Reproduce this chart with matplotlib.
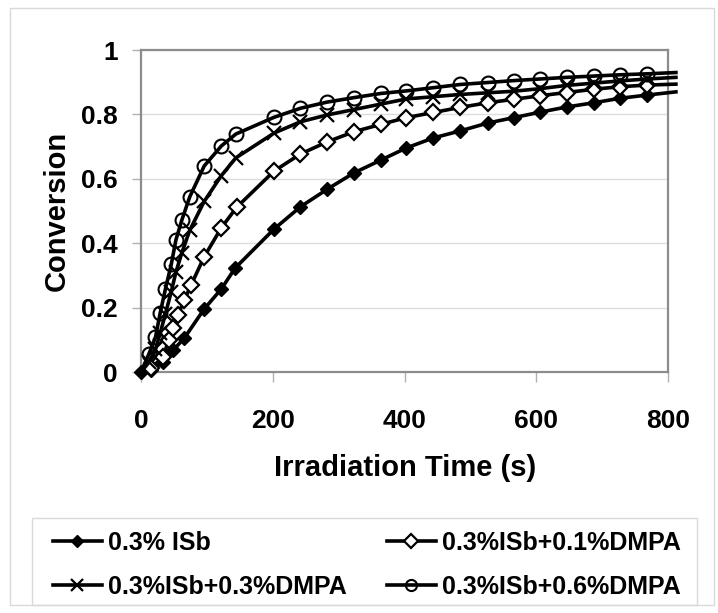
import matplotlib
matplotlib.use('Agg')
import matplotlib.pyplot as plt
from matplotlib.patches import Rectangle

plt.rcParams['font.family'] = ['Liberation Sans', 'DejaVu Sans']
plt.rcParams['font.weight'] = 'bold'

# values (time in s, conversion fraction)
t_isb = [0, 15, 33, 49, 66, 96, 122, 143, 202, 242, 283, 323, 364, 403, 444,
         485, 526, 566, 606, 646, 687, 727, 768, 812]
c_isb = [0, 0.005, 0.03, 0.068, 0.106, 0.196, 0.258, 0.323, 0.444, 0.513,
         0.568, 0.618, 0.658, 0.696, 0.727, 0.749, 0.773, 0.79, 0.807, 0.823,
         0.836, 0.85, 0.86, 0.87]

t_d01 = [0, 15, 34, 42, 49, 56, 66, 76, 96, 122, 145, 202, 242, 283, 323, 364,
         403, 444, 485, 526, 566, 606, 646, 687, 727, 768, 812]
c_d01 = [0, 0.011, 0.048, 0.10, 0.136, 0.177, 0.224, 0.27, 0.358, 0.448, 0.511,
         0.624, 0.677, 0.715, 0.746, 0.769, 0.79, 0.806, 0.822, 0.836, 0.847,
         0.858, 0.868, 0.878, 0.886, 0.891, 0.894]

t_d03 = [0, 12, 22, 29, 37, 46, 53, 62, 74, 96, 122, 144, 202, 242, 282, 323,
         364, 403, 444, 485, 526, 566, 606, 646, 687, 727, 768, 812]
c_d03 = [0, 0.03, 0.07, 0.12, 0.18, 0.25, 0.31, 0.37, 0.44, 0.53, 0.61, 0.665,
         0.742, 0.777, 0.798, 0.815, 0.832, 0.848, 0.855, 0.862, 0.867, 0.872,
         0.88, 0.89, 0.897, 0.904, 0.91, 0.915]

t_d06 = t_d03
c_d06 = [0, 0.056, 0.108, 0.182, 0.257, 0.335, 0.41, 0.472, 0.544, 0.64, 0.702,
         0.739, 0.791, 0.819, 0.838, 0.852, 0.865, 0.873, 0.883, 0.893, 0.899,
         0.905, 0.91, 0.915, 0.919, 0.923, 0.926, 0.93]

labels = ['0.3% ISb', '0.3%ISb+0.1%DMPA', '0.3%ISb+0.3%DMPA', '0.3%ISb+0.6%DMPA']
x_ticks = [0, 200, 400, 600, 800]
y_ticks = [0, 0.2, 0.4, 0.6, 0.8, 1.0]
y_ticklabels = ['0', '0.2', '0.4', '0.6', '0.8', '1']

W, H = 718, 613
fig = plt.figure(figsize=(W / 100, H / 100), dpi=100)
ax = fig.add_axes([141 / W, 1 - 372 / H, 527 / W, 322 / H])

lw = 2.6
h0, = ax.plot(t_isb, c_isb, color='black', lw=lw, marker='D', ms=7.5,
              mfc='black', mec='black', markevery=list(range(len(t_isb) - 1)),
              clip_on=False, zorder=3)
h1, = ax.plot(t_d01, c_d01, color='black', lw=lw, marker='D', ms=8.5,
              mfc='white', mec='black', mew=1.6,
              markevery=list(range(1, len(t_d01) - 1)), clip_on=False, zorder=3)
h2, = ax.plot(t_d03, c_d03, color='black', lw=lw, marker='x', ms=10, mew=1.6,
              mec='black', markevery=list(range(1, len(t_d03) - 1)),
              clip_on=False, zorder=3)
h3, = ax.plot(t_d06, c_d06, color='black', lw=lw, marker='o', ms=10, mew=1.5,
              mfc='none', mec='black', markevery=list(range(1, len(t_d06) - 1)),
              clip_on=False, zorder=3)

ax.set_xlim(0, 800)
ax.set_ylim(0, 1)
ax.set_xticks(x_ticks)
ax.set_yticks(y_ticks)
ax.set_yticklabels(y_ticklabels)
ax.tick_params(labelsize=19, colors='#b0b0b0', width=1)
ax.tick_params(axis='x', length=7, pad=20)
ax.tick_params(axis='y', length=6.5, pad=10)
for lab in ax.get_xticklabels() + ax.get_yticklabels():
    lab.set_color('black')
    lab.set_fontweight('bold')
ax.grid(axis='y', color='#dcdcdc', lw=1)
ax.set_axisbelow(True)
for sp in ax.spines.values():
    sp.set_color('#8c8c8c')
    sp.set_linewidth(1.6)

ax.set_xlabel('Irradiation Time (s)', fontsize=21, fontweight='bold', va='center')
ax.xaxis.set_label_coords((405 - 141) / 527, (372 - 468) / 322)
ax.set_ylabel('Conversion', fontsize=21, fontweight='bold', va='center')
ax.yaxis.set_label_coords((57 - 141) / 527, 0.5)

# outer chart frame and legend frame
fig.patches.append(Rectangle((10 / W, 1 - 605 / H), 704 / W, 597 / H,
                             transform=fig.transFigure, fill=False,
                             edgecolor='#d9d9d9', lw=1))
fig.patches.append(Rectangle((32 / W, 1 - 605 / H), 665 / W, 87 / H,
                             transform=fig.transFigure, fill=False,
                             edgecolor='#d9d9d9', lw=1))

# column-major fill: put entries so rows read ISb, 0.1 / 0.3, 0.6
leg = fig.legend([h0, h2, h1, h3], [labels[0], labels[2], labels[1], labels[3]],
                 ncol=2, loc='center left',
                 bbox_to_anchor=(53 / W, 1 - 565 / H), borderpad=0,
                 borderaxespad=0, fontsize=18, frameon=False,
                 handlelength=1.95, handletextpad=0.25, columnspacing=1.6,
                 labelspacing=0.8, markerscale=0.8)
for txt in leg.get_texts():
    txt.set_fontweight('bold')

fig.savefig('out.png', dpi=100)
